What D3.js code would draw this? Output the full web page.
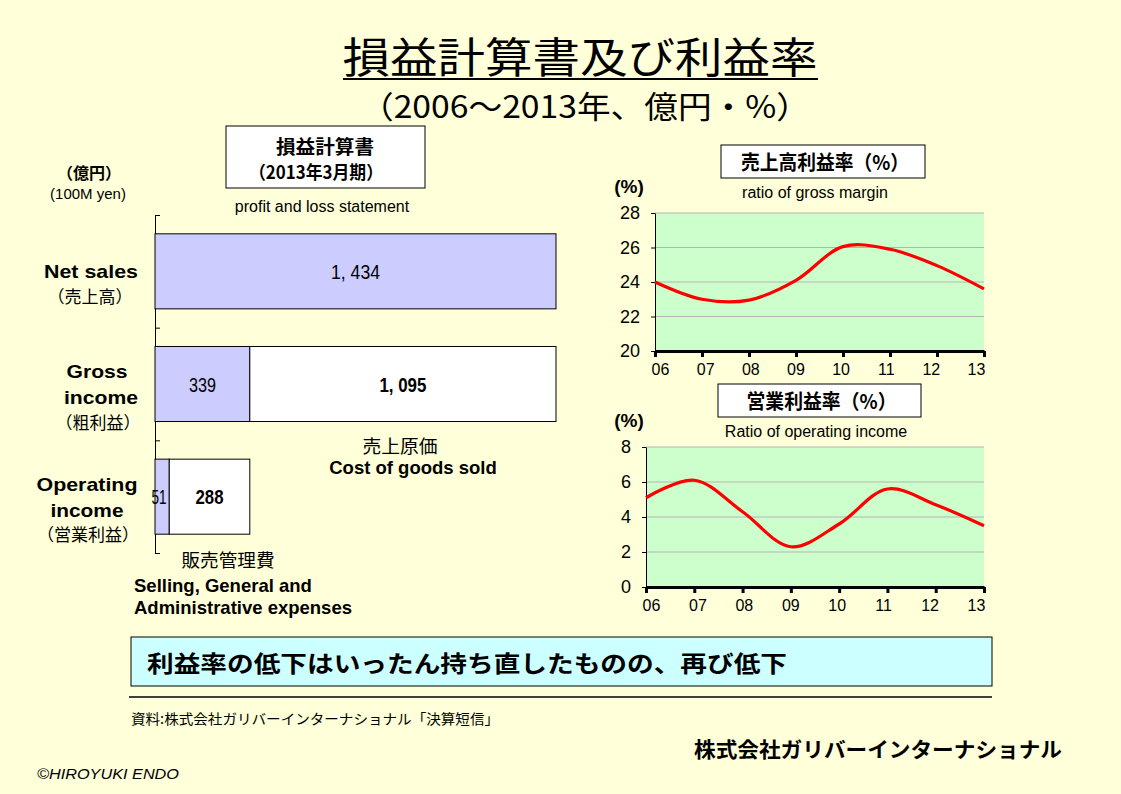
<!DOCTYPE html>
<html><head><meta charset="utf-8">
<script src="https://cdn.jsdelivr.net/npm/d3@7"></script>
<style>
html,body{margin:0;padding:0;background:#FFFFD9;}
svg{display:block;}
text{font-family:"Liberation Sans",Arial,sans-serif;fill:#000;}
.jp{font-family:"Noto Sans CJK JP","Liberation Sans",sans-serif;}
</style></head>
<body>
<svg id="c" width="1121" height="794"></svg>
<script>
// ---- data ----
const barCategories = ["Net sales", "Gross income", "Operating income"];
const barBlue = [1434, 339, 51];
const barWhite = [0, 1095, 288];
const blueLabels = ["1, 434", "339", "51"];
const whiteLabels = ["", "1, 095", "288"];
const years = ["06", "07", "08", "09", "10", "11", "12", "13"];
const grossMargin = [24.0, 23.0, 22.95, 24.1, 26.05, 25.9, 24.95, 23.6];
const operatingMargin = [5.1, 6.1, 4.3, 2.3, 3.6, 5.6, 4.7, 3.5];
const grossTicks = [20, 22, 24, 26, 28];
const opTicks = [0, 2, 4, 6, 8];

const svg = d3.select("#c");
svg.append("rect").attr("width",1121).attr("height",794).attr("fill","#FFFFD9");

function txt(x, y, s, o = {}) {
  const t = svg.append("text").attr("x", x).attr("y", y).text(s)
    .attr("dominant-baseline", "central")
    .attr("text-anchor", o.anchor || "middle")
    .attr("font-size", o.size || 16)
    .attr("font-weight", o.bold ? 700 : 400);
  if (o.cls) t.attr("class", o.cls);
  if (o.italic) t.attr("font-style", "italic");
  if (o.len) t.attr("textLength", o.len).attr("lengthAdjust", "spacingAndGlyphs");
  if (o.ls) t.attr("letter-spacing", o.ls);
  return t;
}

// ---- title ----
txt(580, 54, "損益計算書及び利益率", {size: 42, cls: "jp", len: 475});
svg.append("line").attr("x1", 343).attr("x2", 818).attr("y1", 79).attr("y2", 79)
  .attr("stroke", "#000").attr("stroke-width", 2);
txt(585, 104, "（2006～2013年、億円・%）", {size: 31, cls: "jp", len: 450});

// ---- left: P&L bar chart ----
const xB = d3.scaleLinear().domain([0, 1434]).range([155, 556]);
const yB = d3.scaleBand().domain(barCategories).range([215, 553]).paddingInner(0.334).paddingOuter(0.167);
const yAx = d3.scaleLinear().domain([0, 3]).range([215, 553]);
const gl = svg.append("g");
gl.append("g").attr("transform", "translate(155,0)")
  .call(d3.axisRight(yAx).ticks(3).tickSize(5).tickSizeOuter(0).tickFormat(""))
  .call(g => g.selectAll("path,line").attr("stroke", "#000"));

gl.selectAll("rect.b").data(barCategories).enter().append("rect")
  .attr("x", xB(0)).attr("y", d => yB(d))
  .attr("width", (d, i) => xB(barBlue[i]) - xB(0)).attr("height", yB.bandwidth())
  .attr("fill", "#CCCCFF").attr("stroke", "#000").attr("stroke-width", 1);
gl.selectAll("rect.w").data(barCategories.filter((d, i) => barWhite[i] > 0)).enter().append("rect")
  .attr("x", d => xB(barBlue[barCategories.indexOf(d)]))
  .attr("y", d => yB(d))
  .attr("width", d => { const i = barCategories.indexOf(d); return xB(barBlue[i] + barWhite[i]) - xB(barBlue[i]); })
  .attr("height", yB.bandwidth())
  .attr("fill", "#FFFFFF").attr("stroke", "#000").attr("stroke-width", 1);

const blueLen = [49, 27, 15], whiteLen = [0, 47, 28];
barCategories.forEach((c, i) => {
  const cy = yB(c) + yB.bandwidth() / 2;
  const x0 = xB(0), x1 = xB(barBlue[i]), x2 = xB(barBlue[i] + barWhite[i]);
  const bx = i === 2 ? x0 + 4 : (x0 + x1) / 2;
  txt(bx, cy, blueLabels[i], {size: 21, len: blueLen[i]});
  if (whiteLabels[i]) txt((x1 + x2) / 2, cy, whiteLabels[i], {size: 21, bold: true, len: whiteLen[i]});
});

// category labels
txt(91, 271, "Net sales", {size: 19, bold: true, len: 94});
txt(90, 295, "（売上高）", {size: 17, cls: "jp"});
txt(97, 371, "Gross", {size: 19, bold: true, len: 61});
txt(101, 397, "income", {size: 19, bold: true, len: 74});
txt(98, 421, "（粗利益）", {size: 17, cls: "jp"});
txt(87, 484, "Operating", {size: 19, bold: true, len: 101});
txt(87, 510, "income", {size: 19, bold: true, len: 73});
txt(88, 533, "（営業利益）", {size: 17, cls: "jp"});

txt(89, 172, "（億円）", {size: 16, bold: true, cls: "jp"});
txt(88, 193, "(100M yen)", {size: 15});

svg.append("rect").attr("x", 226).attr("y", 126).attr("width", 199).attr("height", 62)
  .attr("fill", "#FFFFFF").attr("stroke", "#000");
txt(325, 145, "損益計算書", {size: 19, bold: true, cls: "jp", len: 98});
txt(316, 171, "（2013年3月期）", {size: 18, bold: true, cls: "jp", len: 134});
txt(322, 206, "profit and loss statement", {size: 16});

txt(400, 445, "売上原価", {size: 18, cls: "jp", len: 75});
txt(413, 467, "Cost of goods sold", {size: 18.5, bold: true});
txt(228, 559, "販売管理費", {size: 18, cls: "jp", len: 93});
txt(134, 585, "Selling, General and", {size: 18.5, bold: true, anchor: "start"});
txt(134, 607, "Administrative expenses", {size: 18.5, bold: true, anchor: "start"});

// ---- right: line charts ----
function lineChart(cfg) {
  const g = svg.append("g");
  const x = d3.scalePoint().domain(years).range([cfg.x0, cfg.x1]);
  const y = d3.scaleLinear().domain(cfg.domain).range([cfg.y1, cfg.y0]);
  g.append("rect").attr("x", cfg.x0).attr("y", cfg.y0).attr("width", cfg.x1 - cfg.x0)
    .attr("height", cfg.y1 - cfg.y0).attr("fill", "#CCFFCC");
  g.selectAll("line.grid").data(cfg.ticks.slice(1)).enter().append("line")
    .attr("x1", cfg.x0).attr("x2", cfg.x1).attr("y1", d => y(d)).attr("y2", d => y(d))
    .attr("stroke", "#B4B4B4").attr("stroke-width", 1);
  g.append("g").attr("transform", `translate(${cfg.x0},0)`)
    .call(d3.axisLeft(y).tickValues(cfg.ticks).tickSize(4).tickSizeOuter(0).tickPadding(11))
    .call(a => a.selectAll("path,line").attr("stroke", "#000"))
    .call(a => a.selectAll("text").attr("font-size", 18).attr("font-family", "Liberation Sans, Arial, sans-serif").attr("fill", "#000"));
  g.append("g").attr("transform", `translate(0,${cfg.y1})`)
    .call(d3.axisBottom(x).tickSize(6).tickSizeOuter(0).tickPadding(7))
    .call(a => a.select("path").attr("stroke", "#000").attr("stroke-width", 3))
    .call(a => a.selectAll("line").attr("stroke", "#000").attr("stroke-width", 3))
    .call(a => a.selectAll("text").attr("font-size", 16).attr("font-family", "Liberation Sans, Arial, sans-serif").attr("fill", "#000")
      .attr("dx", (d, i) => 5 - i * (13 / 7)));
  g.append("path").datum(cfg.values)
    .attr("d", d3.line().x((d, i) => x(years[i])).y(d => y(d)).curve(d3.curveCatmullRom.alpha(0.5)))
    .attr("fill", "none").attr("stroke", "#FF0000").attr("stroke-width", 3.2);
  // title box
  svg.append("rect").attr("x", cfg.bx).attr("y", cfg.by).attr("width", cfg.bw).attr("height", cfg.bh)
    .attr("fill", "#FFFFFF").attr("stroke", "#000");
  txt(cfg.bx + cfg.bw / 2 + 2, cfg.by + cfg.bh / 2, cfg.title, {size: 20, bold: true, cls: "jp", len: cfg.tlen});
  txt(629, cfg.pctY, "(%)", {size: 19, bold: true});
  txt(cfg.subX, cfg.subY, cfg.sub, {size: 16});
}

lineChart({x0: 655, x1: 984, y0: 213, y1: 351, domain: [20, 28], ticks: grossTicks, values: grossMargin,
  bx: 721, by: 145, bw: 204, bh: 33, title: "売上高利益率（%）", tlen: 168, pctY: 186, sub: "ratio of gross margin", subX: 815, subY: 192});
lineChart({x0: 646, x1: 984, y0: 447, y1: 587, domain: [0, 8], ticks: opTicks, values: operatingMargin,
  bx: 718, by: 384, bw: 203, bh: 33, title: "営業利益率（%）", tlen: 150, pctY: 420, sub: "Ratio of operating income", subX: 816, subY: 431});

// ---- bottom ----
svg.append("rect").attr("x", 131).attr("y", 637).attr("width", 861).attr("height", 49)
  .attr("fill", "#CCFFFF").attr("stroke", "#000");
txt(147, 662, "利益率の低下はいったん持ち直したものの、再び低下", {size: 23, bold: true, cls: "jp", anchor: "start", len: 640});
svg.append("line").attr("x1", 129).attr("x2", 992).attr("y1", 697).attr("y2", 697).attr("stroke", "#000").attr("stroke-width", 1.5);
txt(131, 718, "資料:株式会社ガリバーインターナショナル「決算短信」", {size: 14, cls: "jp", anchor: "start", len: 368});
txt(694, 748, "株式会社ガリバーインターナショナル", {size: 21, bold: true, cls: "jp", anchor: "start", len: 368});
txt(37, 773, "©HIROYUKI  ENDO", {size: 15, italic: true, anchor: "start", len: 142});
</script>
</body></html>
